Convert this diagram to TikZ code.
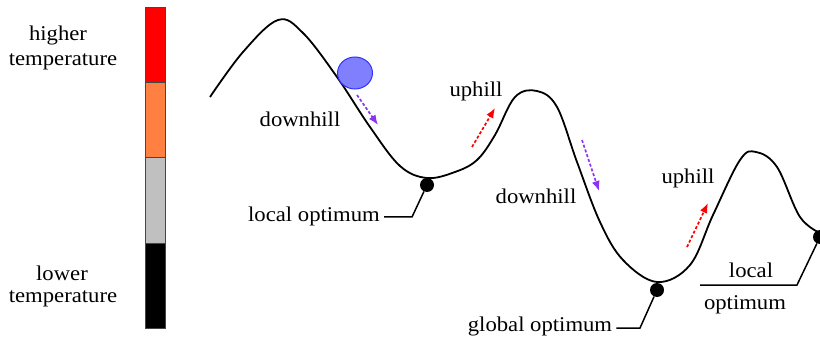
\documentclass[tikz,border=0pt]{standalone}
\usepackage{fontspec}
\setmainfont{Liberation Serif}[FakeStretch=1.08]
\usepackage{xcolor}
\usetikzlibrary{arrows.meta,positioning,shapes.geometric,calc}
\definecolor{roxo}{RGB}{140,50,240}
\definecolor{laranja}{RGB}{255,128,64}
\definecolor{cinzaclaro}{RGB}{192,192,192}
\definecolor{bordabarra}{RGB}{70,70,70}
\definecolor{bolafundo}{RGB}{128,128,255}
\definecolor{bolaborda}{RGB}{50,50,255}
\tikzset{
    rotulo/.style={
        font=\fontsize{21}{25}\selectfont,
        inner sep=0pt,
        anchor=base
    },
    otimo/.style={circle, fill=black, minimum size=14pt, inner sep=0pt},
    faixa/.style={
        rectangle,
        draw=bordabarra,
        line width=1pt,
        minimum width=20pt,
        inner sep=0pt
    },
    descida/.style={-{Latex[length=10pt,width=8pt]}, dash pattern=on 3pt off 2pt, line width=1.7pt, draw=roxo},
    subida/.style={descida, draw=red},
    relevo/.style={line width=1.8pt, line join=round},
    guia/.style={line width=1.5pt}
}

\begin{document}
\begin{tikzpicture}[x=1pt, y=-1pt]
    \useasboundingbox (0,0) rectangle (820,342);

    % barra de temperatura
    \node[faixa, fill=red, minimum height=75pt] (quente) at (155,45.5) {};
    \node[faixa, fill=laranja, minimum height=75pt] (morno) at (155,120.5) {};
    \node[faixa, fill=cinzaclaro, minimum height=85pt] (tepido) at (155,200.5) {};
    \node[faixa, fill=black, minimum height=85pt] (frio) at (155,285.5) {};
    \node[rotulo] (alta1) at (58,41) {higher};
    \node[rotulo] (alta2) at (63,66) {temperature};
    \node[rotulo] (baixa1) at (62,280) {lower};
    \node[rotulo] (baixa2) at (63,302) {temperature};

    % paisagem
    \draw[relevo] plot[smooth, tension=0.6] coordinates {
        (210,97) (243,52) (278,20) (303,33) (337,77) (370,127) (400,166)
        (427,178) (455,172) (477,160) (495,135) (515,97) (537,91) (557,107)
        (577,162) (600,222) (623,260) (657,282) (690,265) (713,215) (740,160)
        (756,152) (777,167) (800,217) (822,234)};

    \node[ellipse, fill=bolafundo, draw=bolaborda, line width=1pt,
          minimum width=35pt, minimum height=32pt, inner sep=0pt] (bola) at (355,73) {};

    \node[otimo] (otimoLocal) at (427,185) {};
    \node[otimo] (otimoGlobal) at (657,290) {};
    \node[otimo] (otimoDireita) at (820,237) {};

    % rotulos
    \node[rotulo] (desce1) at (300,127) {downhill};
    \node[rotulo] (sobe1) at (476,97) {uphill};
    \node[rotulo] (desce2) at (536,204) {downhill};
    \node[rotulo] (sobe2) at (688,184) {uphill};
    \node[rotulo, inner xsep=4pt] (txtLocal) at (314,222) {local optimum};
    \node[rotulo, inner xsep=4pt] (txtGlobal) at (540,331) {global optimum};
    \node[rotulo] (txtLocal2a) at (751,277) {local};
    \node[rotulo] (txtLocal2b) at (745,309) {optimum};

    % setas
    \coordinate (d1a) at (357,95);  \coordinate (d1b) at (378,125);
    \coordinate (s1a) at (472,147); \coordinate (s1b) at (495,108);
    \coordinate (d2a) at (582,140); \coordinate (d2b) at (599,191);
    \coordinate (s2a) at (687,247); \coordinate (s2b) at (708,203);
    \draw[descida] (d1a) -- (d1b);
    \draw[subida] (s1a) -- (s1b);
    \draw[descida] (d2a) -- (d2b);
    \draw[subida] (s2a) -- (s2b);

    % linhas de chamada
    \coordinate (dobraLocal) at (412,217);
    \coordinate (dobraGlobal) at (640,328);
    \coordinate (dobraDireita) at (797,285);
    \coordinate (fimDireita) at (700,285);
    \draw[guia] (otimoLocal) -- (dobraLocal) -- (dobraLocal -| txtLocal.east);
    \draw[guia] (otimoGlobal) -- (dobraGlobal) -- (dobraGlobal -| txtGlobal.east);
    \draw[guia] (otimoDireita) -- (dobraDireita) -- (fimDireita);
\end{tikzpicture}
\end{document}
